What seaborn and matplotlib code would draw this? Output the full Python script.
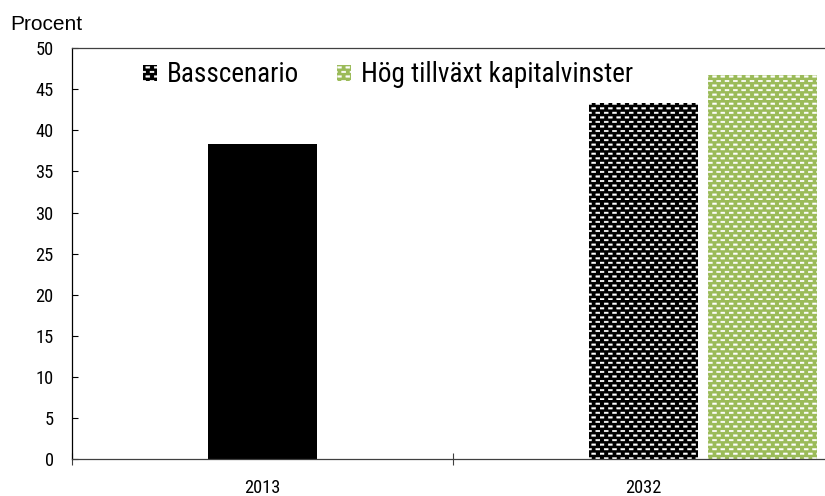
import warnings
import numpy as np
import pandas as pd
import seaborn as sns
import matplotlib.pyplot as plt
from matplotlib import hatch as mhatch
from matplotlib import font_manager as fm
from matplotlib.path import Path as MPath
from matplotlib.patches import Patch

warnings.filterwarnings("ignore")

years = ["2013", "2032", "2032"]
scenarios = ["Utfall 2013", "Basscenario", "Hög tillväxt kapitalvinster"]
values = [38.3, 43.3, 46.7]
legend_labels = ["Basscenario", "Hög tillväxt kapitalvinster"]
y_ticks = list(range(0, 51, 5))

GREEN = "#9BBB59"


class Bricks(mhatch.HatchPatternBase):
    # staggered rows of small dashes, used when the hatch string has "="
    rows, cols = 22, 12

    def __init__(self, hatch, density):
        self.on = "=" in hatch
        self.num_vertices = self.rows * self.cols * 5 if self.on else 0

    def set_vertices_and_codes(self, vertices, codes):
        w, h = 0.04, 0.016
        i = 0
        for r in range(self.rows):
            y = r / self.rows
            shift = 0.5 / self.cols if r % 2 else 0.0
            for c in range(self.cols):
                x = c / self.cols + shift
                vertices[i:i + 5] = [(x, y), (x + w, y), (x + w, y + h), (x, y + h), (x, y)]
                codes[i:i + 5] = [MPath.MOVETO, MPath.LINETO, MPath.LINETO,
                                  MPath.LINETO, MPath.CLOSEPOLY]
                i += 5


mhatch._hatch_types.append(Bricks)


def narrow_font():
    # look for any installed condensed / narrow sans face
    wanted = ["Liberation Sans Narrow", "Roboto Condensed", "Open Sans Condensed",
              "Noto Sans Condensed", "DejaVu Sans Condensed", "Arial Narrow"]
    faces = [f for f in fm.fontManager.ttflist
             if f.style == "normal" and f.weight in (400, "normal", "regular")]
    for name in wanted:
        for f in faces:
            if f.name == name and "Bold" not in f.fname:
                return fm.FontProperties(fname=f.fname)
    for f in faces:
        low = f.fname.lower()
        if ("condensed" in low or "narrow" in low or str(f.stretch) == "condensed") \
                and "bold" not in low and "light" not in low and "semi" not in low:
            return fm.FontProperties(fname=f.fname)
    return fm.FontProperties(family="DejaVu Sans")


def fit_size(fig, fp, text, target_px):
    t = fig.text(0, 0, text, fontproperties=fp, fontsize=10)
    w = t.get_window_extent(fig.canvas.get_renderer()).width
    t.remove()
    return 10 * target_px / w


def main():
    plt.rcParams["hatch.linewidth"] = 0.3

    df = pd.DataFrame({"year": years, "scenario": scenarios, "value": values})
    # slot within the category group: 2013 and Basscenario sit in the middle
    slot = {"Utfall 2013": "mid", "Basscenario": "mid",
            "Hög tillväxt kapitalvinster": "right"}
    df["slot"] = df["scenario"].map(slot)

    style = {
        "Utfall 2013": dict(fc="black", hatch=None),
        "Basscenario": dict(fc="black", hatch="="),
        "Hög tillväxt kapitalvinster": dict(fc=GREEN, hatch="="),
    }

    fig = plt.figure(figsize=(8.25, 4.96), dpi=100)
    ax = fig.add_axes([72.3 / 825, 1 - 459.3 / 496, (833.8 - 72.3) / 825, (459.3 - 48) / 496])

    fp = narrow_font()
    leg_size = fit_size(fig, fp, "Basscenario Hög tillväxt kapitalvinster", 408)
    tick_size = fit_size(fig, fp, "2013", 36)
    em = leg_size * 100 / 72

    sns.barplot(
        data=df, x="year", y="value", hue="slot",
        hue_order=["left", "mid", "right"],
        palette={"left": "black", "mid": "black", "right": GREEN},
        width=0.9375, gap=0.088, saturation=1, errorbar=None,
        legend=False, ax=ax,
    )

    for p in ax.patches:
        idx = int(np.argmin(np.abs(np.array(values) - p.get_height())))
        s = style[scenarios[idx]]
        p.set_facecolor(s["fc"])
        p.set_edgecolor("white")
        p.set_linewidth(0)
        p.set_hatch(s["hatch"])

    ax.set_xlim(-0.5, 1.5)
    ax.set_ylim(0, 50)
    ax.set_yticks(y_ticks)
    ax.set_xlabel("")
    ax.set_ylabel("")

    ax.set_xticks([-0.5, 0.5, 1.5], minor=True)
    ax.tick_params(axis="x", which="major", length=0, pad=14)
    ax.tick_params(axis="x", which="minor", direction="inout", length=8, width=0.8, color="#404040")
    ax.tick_params(axis="y", direction="in", length=4.5, width=0.8, pad=13.5)

    for lab in ax.get_xticklabels() + ax.get_yticklabels():
        lab.set_fontproperties(fp)
        lab.set_fontsize(tick_size)

    for side in ["left", "bottom", "top"]:
        ax.spines[side].set_visible(True)
        ax.spines[side].set_linewidth(0.9)
    ax.spines["left"].set_color("black")
    ax.spines["bottom"].set_color("#404040")
    ax.spines["top"].set_color("#404040")
    ax.spines["right"].set_visible(False)

    handles = [
        Patch(facecolor=style[n]["fc"], edgecolor="white", linewidth=0,
              hatch=style[n]["hatch"], label=n)
        for n in legend_labels
    ]
    leg_fp = fp.copy()
    leg_fp.set_size(leg_size)
    fig.legend(
        handles=handles, loc="center left",
        bbox_to_anchor=(143 / 825, 1 - 75 / 496),
        ncol=2, frameon=False, borderpad=0, borderaxespad=0,
        handlelength=14 / em, handleheight=14 / em,
        handletextpad=10 / em, columnspacing=38 / em,
        prop=leg_fp,
    )

    fig.text(10 / 825, 1 - 30 / 496, "Procent", family=["Liberation Sans", "DejaVu Sans"],
             fontsize=15, va="baseline", ha="left")

    fig.savefig("out.png", dpi=100)


if __name__ == "__main__":
    main()
